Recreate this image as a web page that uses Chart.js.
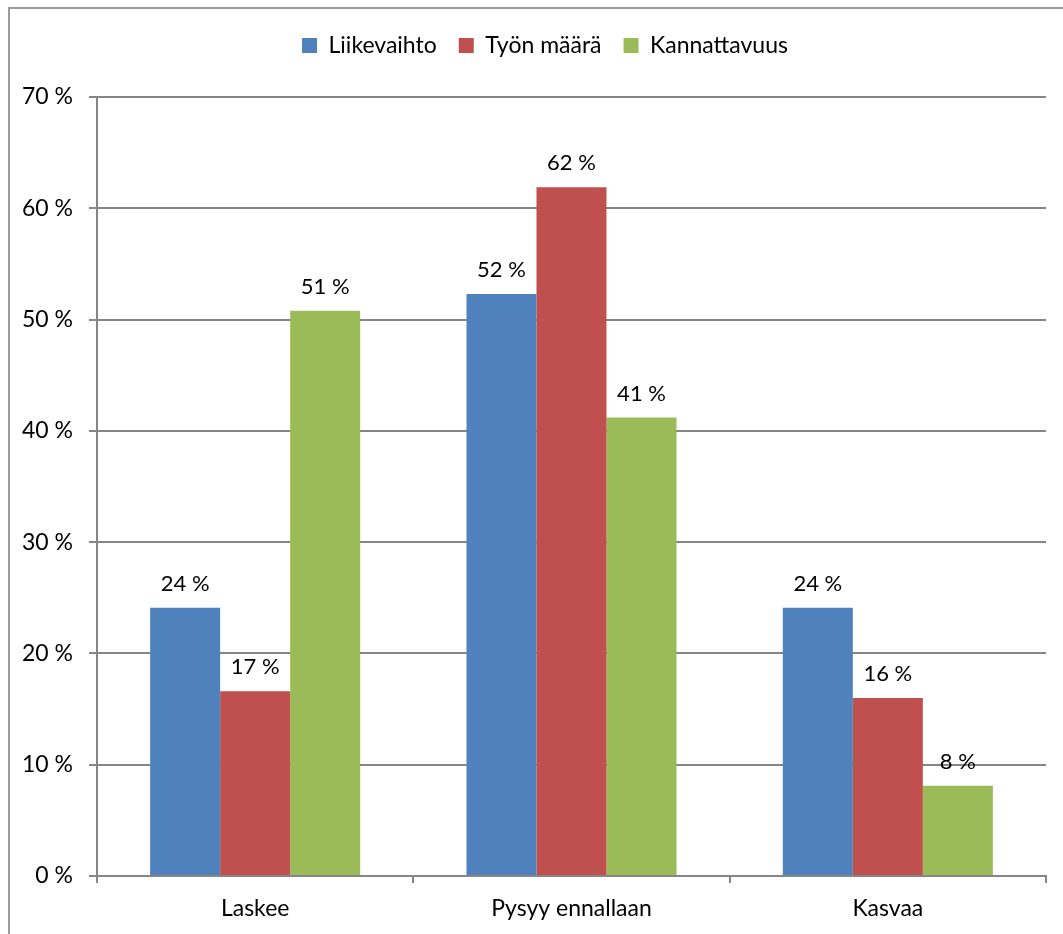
<!DOCTYPE html>
<html>
<head>
<meta charset="utf-8">
<script src="https://cdn.jsdelivr.net/npm/chart.js@4.4.1/dist/chart.umd.min.js"></script>
<style>
  html, body { margin: 0; padding: 0; overflow: hidden; background: #fff; }
  #frame { position: absolute; left: 8px; top: 7px; width: 1100px; height: 1000px; border: 2px solid #9a9a9a; }
  #wrap { position: absolute; left: 0; top: 0; width: 1063px; height: 934px; }
</style>
</head>
<body>
<div id="frame"></div>
<div id="wrap"><canvas id="chart"></canvas></div>
<script>
// Categories and series
const categories = ['Laskee', 'Pysyy ennallaan', 'Kasvaa'];
const liikevaihto = [24.1, 52.3, 24.1];
const tyonMaara = [16.6, 61.9, 16.0];
const kannattavuus = [50.8, 41.2, 8.1];
const yTicks = [0, 10, 20, 30, 40, 50, 60, 70];

const FONT = 'Lato, "Open Sans", sans-serif';

// Draw value labels above bars
const valueLabels = {
    id: 'valueLabels',
    afterDatasetsDraw(chart) {
        const ctx = chart.ctx;
        ctx.save();
        ctx.font = '22px ' + FONT;
        ctx.fillStyle = '#000';
        ctx.textAlign = 'center';
        ctx.textBaseline = 'alphabetic';
        chart.data.datasets.forEach((ds, i) => {
            chart.getDatasetMeta(i).data.forEach((bar, j) => {
                ctx.fillText(Math.round(ds.data[j]) + ' %', bar.x, bar.y - 17);
            });
        });
        ctx.restore();
    }
};

// Extra space under the legend, and shift it a bit right
const legendGap = {
    id: 'legendGap',
    beforeLayout(chart) {
        const legend = chart.legend;
        if (legend && !legend._gapPatched) {
            const fit = legend.fit;
            legend.fit = function () {
                fit.call(this);
                this.height += 30;
            };
            legend._gapPatched = true;
        }
    },
    afterLayout(chart) {
        chart.legend.left += 22;
        chart.legend.right += 22;
    }
};

new Chart(document.getElementById('chart').getContext('2d'), {
    type: 'bar',
    data: {
        labels: categories,
        datasets: [
            { label: 'Liikevaihto', data: liikevaihto, backgroundColor: '#4F81BD' },
            { label: 'Työn määrä', data: tyonMaara, backgroundColor: '#C0504D' },
            { label: 'Kannattavuus', data: kannattavuus, backgroundColor: '#9BBB59' }
        ]
    },
    options: {
        responsive: true,
        maintainAspectRatio: false,
        animation: false,
        layout: { padding: { left: 0, right: 17, top: 12, bottom: 0 } },
        datasets: { bar: { barPercentage: 1, categoryPercentage: 0.664 } },
        plugins: {
            legend: {
                position: 'top',
                labels: {
                    font: { family: FONT, size: 23 },
                    color: '#000',
                    boxWidth: 15,
                    boxHeight: 15,
                    padding: 22
                }
            },
            tooltip: { enabled: false }
        },
        scales: {
            x: {
                grid: { drawOnChartArea: false, drawTicks: true, tickLength: 7, color: '#868686', lineWidth: 2 },
                border: { color: '#868686', width: 2 },
                ticks: { font: { family: FONT, size: 23 }, color: '#000', padding: 12 },
                afterFit(scale) { scale.height = 58; }
            },
            y: {
                min: 0,
                max: 70,
                afterBuildTicks(scale) { scale.ticks = yTicks.map(v => ({ value: v })); },
                grid: { color: '#868686', lineWidth: 2, tickLength: 8 },
                border: { color: '#868686', width: 2 },
                ticks: { font: { family: FONT, size: 23 }, color: '#000', padding: 16, callback: v => v + ' %' },
                afterFit(scale) { scale.width = 97; }
            }
        }
    },
    plugins: [valueLabels, legendGap]
});
</script>
</body>
</html>
